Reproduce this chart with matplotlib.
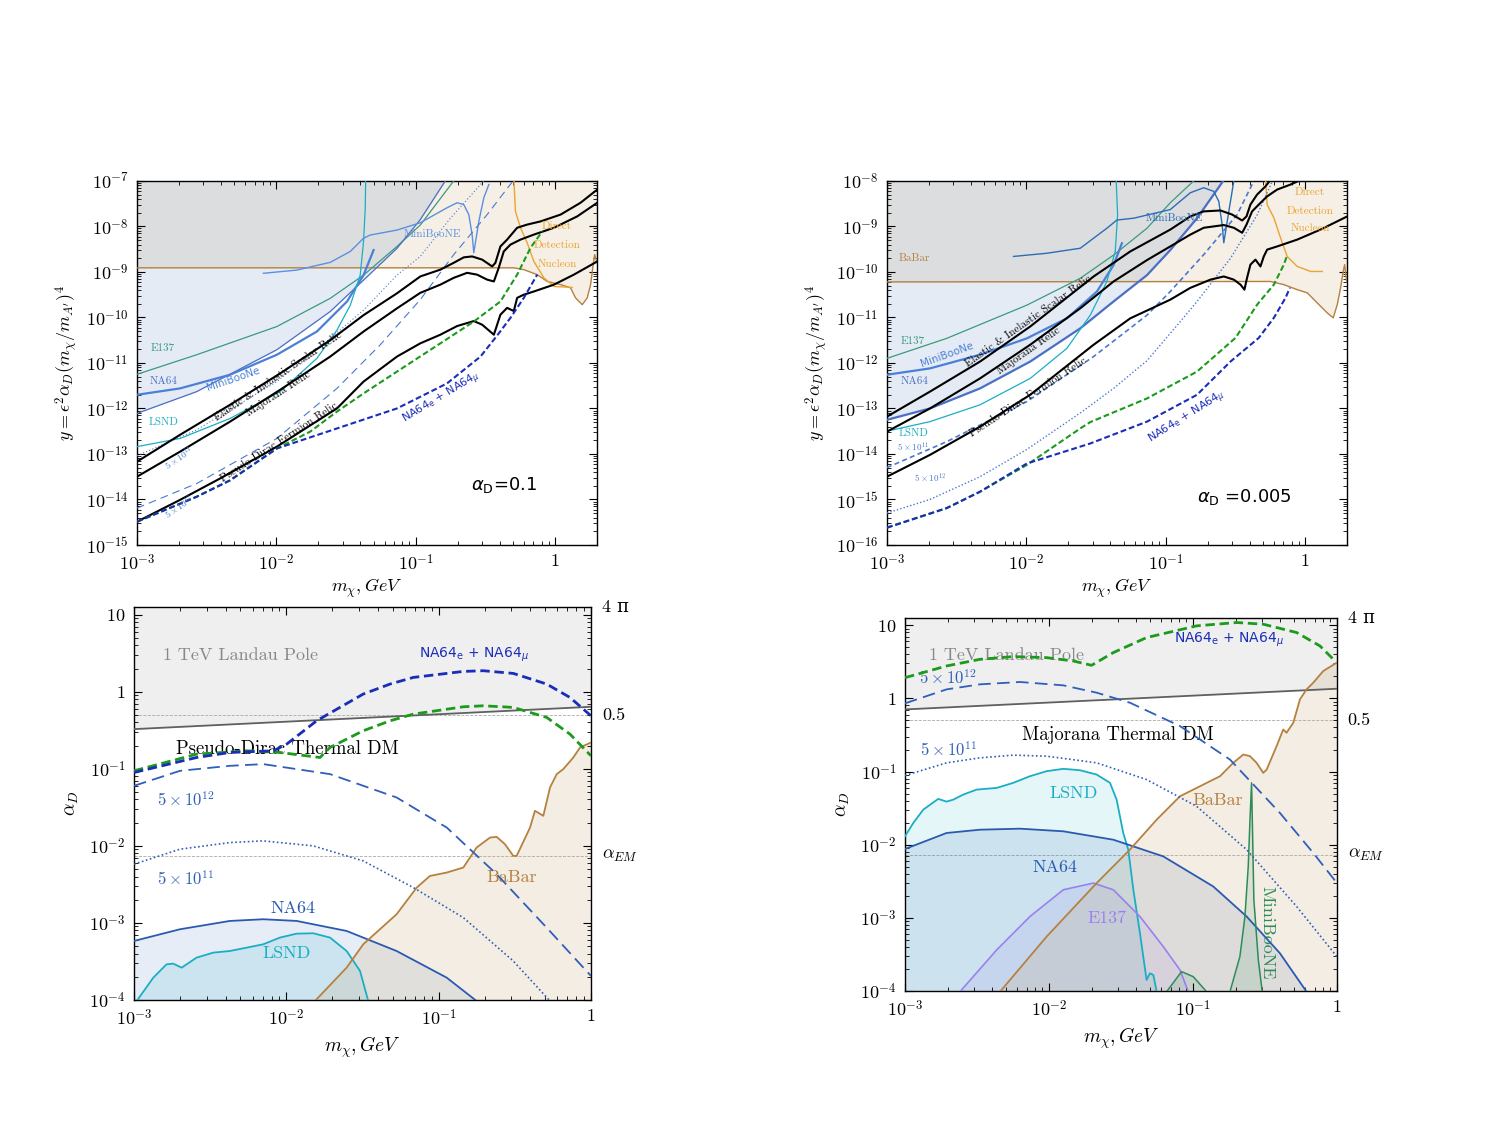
import numpy as np
import matplotlib
matplotlib.use('Agg')
import matplotlib.pyplot as plt
from matplotlib.ticker import LogLocator, FuncFormatter, NullFormatter

plt.rcParams['mathtext.fontset'] = 'cm'
plt.rcParams['font.family'] = 'cmr10'
plt.rcParams['axes.formatter.use_mathtext'] = True
plt.rcParams['axes.unicode_minus'] = True

# all curves stored as log10(mass / GeV) and log10(value)

# ---------- top left: y vs m, alpha_D = 0.1 ----------
tl_scalar_lm = [-3.000, -2.691, -2.332, -1.972, -1.613, -1.374, -1.134, -0.967, -0.823, -0.727, -0.655, -0.595, -0.523, -0.451, -0.428, -0.392, -0.344, -0.272, -0.200, -0.104, 0.040, 0.183, 0.303]
tl_scalar_ly = [-13.17, -12.58, -11.92, -11.23, -10.50, -9.95, -9.47, -9.10, -8.95, -8.80, -8.68, -8.66, -8.73, -8.88, -8.80, -8.44, -8.29, -8.03, -7.96, -7.89, -7.74, -7.48, -7.19]
tl_major_lm = [-3.000, -2.691, -2.332, -1.972, -1.613, -1.374, -1.134, -0.967, -0.823, -0.727, -0.631, -0.559, -0.487, -0.439, -0.404, -0.368, -0.320, -0.248, -0.152, -0.008, 0.159, 0.303]
tl_major_ly = [-13.50, -12.95, -12.29, -11.59, -10.86, -10.31, -9.80, -9.46, -9.28, -9.13, -9.02, -9.06, -9.17, -9.21, -8.91, -8.55, -8.40, -8.29, -8.18, -8.03, -7.78, -7.48]
tl_pdirac_lm = [-3.000, -2.691, -2.404, -1.996, -1.565, -1.374, -1.134, -0.967, -0.823, -0.703, -0.583, -0.523, -0.439, -0.392, -0.344, -0.296, -0.272, -0.224, -0.152, -0.008, 0.135, 0.303]
tl_pdirac_ly = [-14.49, -14.01, -13.54, -12.84, -12.00, -11.41, -10.86, -10.57, -10.38, -10.19, -10.08, -10.16, -10.38, -9.94, -9.79, -9.86, -9.57, -9.50, -9.43, -9.28, -9.06, -8.77]
tl_green_lm = [-3.000, -2.571, -2.332, -1.996, -1.757, -1.565, -1.374, -1.134, -0.823, -0.583, -0.392, -0.272, -0.176, -0.092]
tl_green_ly = [-14.49, -13.94, -13.58, -12.88, -12.51, -12.07, -11.67, -11.19, -10.57, -10.09, -9.65, -9.06, -8.47, -8.11]
tl_namu_lm = [-3.000, -2.571, -2.332, -1.996, -1.565, -1.134, -0.775, -0.535, -0.416, -0.320, -0.224, -0.128]
tl_namu_ly = [-14.49, -13.94, -13.58, -12.88, -12.44, -12.00, -11.45, -10.86, -10.40, -10.01, -9.57, -9.06]
tl_5e11_lm = [-3.000, -2.571, -1.996, -1.613, -1.374, -1.134, -0.967, -0.751, -0.511]
tl_5e11_ly = [-13.04, -12.47, -11.41, -10.46, -9.84, -9.07, -8.66, -7.82, -7.00]
tl_5e12_lm = [-3.000, -2.571, -1.996, -1.565, -1.254, -0.967, -0.727, -0.487, -0.284]
tl_5e12_ly = [-14.19, -13.65, -12.66, -11.56, -10.60, -9.61, -8.62, -7.74, -6.93]
tl_e137_lm = [-3.000, -2.571, -1.996, -1.613, -1.374, -1.134, -0.967, -0.727]
tl_e137_ly = [-11.25, -10.82, -10.20, -9.58, -9.07, -8.44, -7.97, -7.00]
tl_na64_lm = [-3.000, -2.571, -1.996, -1.613, -1.374, -1.134, -0.967, -0.787]
tl_na64_ly = [-12.11, -11.63, -10.71, -9.87, -9.18, -8.48, -7.85, -7.00]
tl_mbth_lm = [-3.000, -2.691, -2.332, -1.996, -1.709, -1.493, -1.374, -1.302]
tl_mbth_ly = [-11.70, -11.56, -11.26, -10.82, -10.31, -9.65, -9.07, -8.52]
tl_lsnd_lm = [-3.000, -2.691, -2.332, -1.972, -1.709, -1.565, -1.469, -1.398, -1.374, -1.362, -1.359]
tl_lsnd_ly = [-12.84, -12.66, -12.22, -11.63, -10.90, -10.28, -9.73, -9.07, -8.33, -7.60, -7.00]
tl_mb_lm = [-2.092, -1.853, -1.613, -1.469, -1.374, -1.326, -1.134, -0.967, -0.775, -0.703, -0.655, -0.619, -0.595, -0.583, -0.547, -0.511, -0.475]
tl_mb_ly = [-9.03, -8.96, -8.79, -8.55, -8.26, -8.19, -8.08, -7.92, -7.59, -7.48, -7.52, -7.74, -8.18, -8.58, -7.89, -7.37, -7.08]
tl_dd_lm = [-0.296, -0.284, -0.248, -0.200, -0.152, -0.080, -0.008, 0.123]
tl_dd_ly = [-6.93, -7.67, -8.03, -8.36, -8.77, -9.13, -9.32, -9.34]
tl_babar_lm = [-3.000, -0.296, -0.224, -0.128, -0.056, 0.040, 0.111, 0.147, 0.195, 0.231, 0.255, 0.274, 0.284, 0.298, 0.303]
tl_babar_ly = [-8.91, -8.91, -8.95, -9.06, -9.21, -9.28, -9.35, -9.57, -9.72, -9.57, -9.28, -8.84, -8.62, -8.77, -8.81]

# ---------- top right: y vs m, alpha_D = 0.005 ----------
tr_scalar_lm = [-3.000, -2.691, -2.332, -1.972, -1.517, -1.254, -0.967, -0.823, -0.727, -0.607, -0.523, -0.451, -0.420, -0.392, -0.344, -0.284, -0.236]
tr_scalar_ly = [-13.18, -12.63, -11.97, -11.20, -10.10, -9.55, -9.07, -8.78, -8.67, -8.65, -8.74, -8.87, -8.78, -8.52, -8.30, -8.12, -7.93]
tr_major_lm = [-3.000, -2.691, -2.332, -1.972, -1.613, -1.374, -1.134, -0.967, -0.823, -0.727, -0.583, -0.511, -0.451, -0.420, -0.380, -0.332, -0.272, -0.200, -0.104, 0.004]
tr_major_ly = [-13.51, -13.00, -12.34, -11.60, -10.80, -10.21, -9.74, -9.44, -9.18, -9.03, -8.97, -9.03, -9.14, -8.96, -8.67, -8.52, -8.34, -8.19, -8.08, -7.93]
tr_pdirac_lm = [-3.000, -2.691, -2.332, -1.972, -1.517, -1.254, -0.967, -0.823, -0.679, -0.583, -0.511, -0.463, -0.435, -0.416, -0.392, -0.356, -0.320, -0.296, -0.272, -0.200, -0.056, 0.111, 0.303]
tr_pdirac_ly = [-14.50, -14.02, -13.40, -12.70, -11.60, -11.02, -10.61, -10.35, -10.17, -10.10, -10.17, -10.28, -10.39, -10.13, -9.84, -9.73, -9.88, -9.66, -9.51, -9.44, -9.29, -9.07, -8.78]
tr_green_lm = [-3.000, -2.571, -2.332, -1.996, -1.613, -1.541, -1.134, -0.775, -0.499, -0.344, -0.224, -0.152, -0.128]
tr_green_ly = [-15.62, -15.19, -14.83, -14.24, -13.44, -13.30, -12.78, -12.19, -11.45, -10.72, -10.28, -9.84, -9.63]
tr_namu_lm = [-3.000, -2.571, -2.332, -1.996, -1.541, -1.134, -0.775, -0.535, -0.332, -0.224, -0.140, -0.109]
tr_namu_ly = [-15.62, -15.19, -14.83, -14.21, -13.77, -13.29, -12.70, -11.97, -11.45, -11.01, -10.57, -10.35]
tr_5e11_lm = [-3.000, -2.571, -1.996, -1.517, -1.134, -0.967, -0.727, -0.487, -0.380, -0.368]
tr_5e11_ly = [-14.30, -13.73, -12.85, -11.86, -10.95, -10.43, -9.62, -8.74, -8.08, -7.93]
tr_5e12_lm = [-3.000, -2.691, -2.332, -1.996, -1.613, -1.374, -1.134, -0.895, -0.775, -0.535, -0.344, -0.224]
tr_5e12_ly = [-15.30, -15.00, -14.50, -13.90, -13.10, -12.56, -11.95, -11.09, -10.65, -9.70, -8.75, -7.93]
tr_e137_lm = [-3.000, -2.571, -1.996, -1.613, -1.374, -1.134, -0.967, -0.799]
tr_e137_ly = [-11.90, -11.46, -10.73, -10.14, -9.63, -9.04, -8.48, -8.00]
tr_mbth_lm = [-3.000, -2.691, -2.332, -1.996, -1.709, -1.493, -1.374, -1.314]
tr_mbth_ly = [-12.26, -12.12, -11.82, -11.46, -11.02, -10.43, -9.85, -9.37]
tr_na64_lm = [-3.000, -2.691, -2.332, -1.972, -1.613, -1.374, -1.134, -0.967, -0.775, -0.571]
tr_na64_ly = [-13.25, -13.00, -12.56, -11.97, -11.24, -10.65, -10.07, -9.52, -8.82, -7.93]
tr_lsnd_lm = [-3.000, -2.691, -2.332, -1.972, -1.709, -1.541, -1.422, -1.362, -1.345, -1.355]
tr_lsnd_ly = [-13.50, -13.29, -12.92, -12.34, -11.68, -10.95, -10.21, -9.55, -8.75, -8.00]
tr_mb_lm = [-2.092, -1.853, -1.613, -1.422, -1.350, -1.230, -0.967, -0.823, -0.727, -0.655, -0.619, -0.595, -0.583, -0.547, -0.511]
tr_mb_ly = [-9.66, -9.59, -9.48, -9.04, -8.86, -8.82, -8.63, -8.26, -8.15, -8.23, -8.45, -8.96, -9.36, -8.67, -8.00]
tr_dd_lm = [-0.284, -0.272, -0.224, -0.176, -0.128, -0.056, 0.040, 0.123]
tr_dd_ly = [-7.93, -8.52, -8.81, -9.25, -9.66, -9.88, -9.99, -9.99]
tr_babar_lm = [-3.000, -0.248, -0.152, -0.056, 0.016, 0.087, 0.159, 0.202, 0.231, 0.255, 0.274, 0.284, 0.298, 0.303]
tr_babar_ly = [-10.22, -10.21, -10.28, -10.39, -10.46, -10.68, -10.90, -11.01, -10.72, -10.35, -9.99, -9.84, -10.21, -10.23]

# ---------- bottom left: alpha_D vs m, pseudo-Dirac ----------
bl_landau_lm = [-3.0, -1.5, 0.0]
bl_landau_la = [-0.485, -0.34, -0.195]
bl_namu_lm = [-3.000, -2.589, -2.370, -2.085, -1.998, -1.801, -1.648, -1.495, -1.319, -1.166, -0.838, -0.707, -0.510, -0.291, -0.138, 0.0]
bl_namu_la = [-1.048, -0.853, -0.788, -0.766, -0.680, -0.377, -0.203, -0.030, 0.100, 0.186, 0.264, 0.273, 0.238, 0.100, -0.074, -0.312]
bl_green_lm = [-3.000, -2.589, -2.260, -2.042, -1.779, -1.713, -1.495, -1.319, -1.166, -0.838, -0.707, -0.510, -0.291, -0.138, 0.0]
bl_green_la = [-1.026, -0.810, -0.766, -0.788, -0.853, -0.723, -0.506, -0.377, -0.290, -0.195, -0.182, -0.203, -0.333, -0.550, -0.831]
bl_5e12_lm = [-3.000, -2.698, -2.370, -2.151, -1.713, -1.276, -0.947, -0.619, -0.291, 0.0]
bl_5e12_la = [-1.221, -1.026, -0.961, -0.939, -1.069, -1.372, -1.762, -2.368, -3.061, -3.688]
bl_5e11_lm = [-3.000, -2.698, -2.370, -2.151, -1.823, -1.495, -1.166, -0.838, -0.510, -0.269]
bl_5e11_la = [-2.238, -2.043, -1.957, -1.935, -2.000, -2.195, -2.541, -2.931, -3.494, -4.013]
bl_na64_lm = [-3.000, -2.698, -2.370, -2.151, -1.932, -1.604, -1.276, -0.947, -0.751]
bl_na64_la = [-3.234, -3.082, -2.974, -2.952, -2.974, -3.104, -3.364, -3.710, -4.013]
bl_lsnd_lm = [-2.982, -2.873, -2.786, -2.742, -2.687, -2.589, -2.479, -2.370, -2.151, -2.042, -1.932, -1.823, -1.713, -1.604, -1.516, -1.462]
bl_lsnd_la = [-4.013, -3.710, -3.537, -3.528, -3.580, -3.450, -3.385, -3.364, -3.277, -3.190, -3.139, -3.134, -3.190, -3.364, -3.623, -4.013]
bl_babar_lm = [-1.812, -1.604, -1.495, -1.276, -1.144, -1.057, -0.947, -0.838, -0.751, -0.663, -0.619, -0.565, -0.510, -0.488, -0.400, -0.368, -0.313, -0.269, -0.225, -0.182, -0.116, -0.072, 0.0]
bl_babar_la = [-4.013, -3.580, -3.277, -2.887, -2.541, -2.390, -2.346, -2.281, -2.022, -1.892, -1.883, -1.978, -2.130, -2.130, -1.762, -1.545, -1.610, -1.242, -1.069, -1.004, -0.853, -0.723, -0.658]

# ---------- bottom right: alpha_D vs m, Majorana ----------
br_landau_lm = [-3.0, -1.5, 0.0]
br_landau_la = [-0.151, -0.01, 0.132]
br_green_lm = [-3.000, -2.711, -2.479, -2.248, -2.016, -1.831, -1.704, -1.553, -1.322, -0.975, -0.697, -0.512, -0.280, -0.118, -0.025]
br_green_la = [0.283, 0.443, 0.534, 0.571, 0.557, 0.511, 0.452, 0.626, 0.831, 0.991, 1.037, 1.014, 0.900, 0.717, 0.534]
br_5e12_lm = [-3.000, -2.711, -2.479, -2.201, -1.900, -1.669, -1.438, -1.090, -0.743, -0.396, -0.164, 0.0]
br_5e12_la = [-0.068, 0.123, 0.192, 0.224, 0.178, 0.078, -0.059, -0.379, -0.836, -1.566, -2.114, -2.525]
br_5e11_lm = [-3.000, -2.711, -2.479, -2.248, -2.016, -1.669, -1.322, -0.975, -0.627, -0.280, 0.0]
br_5e11_la = [-1.055, -0.881, -0.813, -0.776, -0.790, -0.881, -1.110, -1.475, -2.068, -2.845, -3.530]
br_lsnd_lm = [-3.000, -2.942, -2.873, -2.769, -2.711, -2.664, -2.595, -2.502, -2.363, -2.248, -2.132, -2.016, -1.900, -1.785, -1.669, -1.576, -1.530, -1.484, -1.449, -1.414, -1.368, -1.322, -1.299, -1.275, -1.252]
br_lsnd_la = [-1.886, -1.703, -1.521, -1.374, -1.411, -1.384, -1.315, -1.247, -1.224, -1.155, -1.064, -0.995, -0.963, -0.982, -1.041, -1.155, -1.384, -1.840, -2.068, -2.616, -3.210, -3.849, -3.758, -3.781, -4.01]
br_na64_lm = [-3.000, -2.711, -2.479, -2.201, -1.900, -1.553, -1.206, -0.859, -0.627, -0.396, -0.211]
br_na64_la = [-2.059, -1.840, -1.795, -1.781, -1.817, -1.932, -2.160, -2.571, -2.982, -3.484, -4.01]
br_e137_lm = [-2.618, -2.363, -2.132, -1.900, -1.692, -1.553, -1.368, -1.206, -1.090, -1.032]
br_e137_la = [-4.01, -3.438, -2.982, -2.616, -2.525, -2.616, -2.982, -3.393, -3.712, -4.01]
br_babar_lm = [-2.340, -2.016, -1.669, -1.438, -1.252, -1.090, -0.951, -0.812, -0.720, -0.650, -0.604, -0.558, -0.512, -0.488, -0.419, -0.373, -0.350, -0.303, -0.257, -0.211, -0.164, -0.095, 0.0]
br_babar_la = [-4.01, -3.256, -2.525, -2.068, -1.658, -1.338, -1.201, -1.064, -0.881, -0.767, -0.790, -0.881, -1.018, -0.973, -0.653, -0.425, -0.470, -0.333, -0.014, 0.123, 0.215, 0.374, 0.489]
br_mb_lm = [-0.743, -0.674, -0.639, -0.616, -0.604, -0.593, -0.586, -0.577, -0.546, -0.519]
br_mb_la = [-4.01, -3.530, -2.982, -2.297, -1.658, -1.155, -1.840, -2.753, -3.575, -4.01]
br_mb2_lm = [-1.183, -1.079, -0.998, -0.905]
br_mb2_la = [-4.01, -3.735, -3.804, -4.01]

alpha_half = 0.5
alpha_em = 1 / 137.0
four_pi = 4 * np.pi

# colours
c_na64 = '#4a6fc4'
c_mbth = '#4a80d8'
c_e137 = '#3a9a7e'
c_lsnd = '#1aaec4'
c_dd = '#eda32f'
c_babar = '#b5813f'
c_green = '#1c9a1c'
c_namu = '#1a2db8'
c_ref = '#4a78d0'
c_ref_b = '#2f5fb8'
c_blue_fill = '#2a5db0'
c_beige = '#c8a878'


def P(a):
    return 10.0 ** np.asarray(a)


def fmt(v, pos):
    e = int(round(np.log10(v)))
    if e == 0:
        return r'$1$'
    if e == 1:
        return r'$10$'
    return r'$10^{%d}$' % e


def setup(ax, xlim, ylim):
    ax.set_xscale('log')
    ax.set_yscale('log')
    ax.set_xlim(*xlim)
    ax.set_ylim(*ylim)
    for axis in (ax.xaxis, ax.yaxis):
        axis.set_major_locator(LogLocator(base=10, numticks=30))
        axis.set_minor_locator(LogLocator(base=10, subs=np.arange(2, 10), numticks=200))
        axis.set_major_formatter(FuncFormatter(fmt))
        axis.set_minor_formatter(NullFormatter())
    ax.tick_params(which='both', direction='in', top=True, right=True, labelsize=13, pad=6)
    ax.tick_params(which='major', length=6, width=0.8)
    ax.tick_params(which='minor', length=3, width=0.6)
    for s in ax.spines.values():
        s.set_linewidth(1.0)


def line(ax, lm, ly, **kw):
    ax.plot(P(lm), P(ly), **kw)


fig = plt.figure(figsize=(15, 11.25), dpi=100)

ax_tl = fig.add_axes([0.0913, 0.5156, 0.3067, 0.3236])
ax_tr = fig.add_axes([0.5913, 0.5156, 0.3067, 0.3236])
ax_bl = fig.add_axes([0.0893, 0.1111, 0.3047, 0.3493])
ax_br = fig.add_axes([0.6033, 0.1191, 0.2880, 0.3316])

sans = ['DejaVu Sans']
dash_t = (0, (2.8, 1.4))
dash_b = (0, (3.4, 1.7))


def top_panel(ax, ylim, d, labels):
    setup(ax, (1e-3, 2), ylim)
    top = ylim[1] * 10
    # excluded regions
    ax.fill_between(P(d['babar'][0]), P(d['babar'][1]), top, color=c_beige, alpha=0.18, lw=0, zorder=1)
    ax.fill_between(P(d['na64'][0]), P(d['na64'][1]), top, color=c_blue_fill, alpha=0.12, lw=0, zorder=1)
    line(ax, *d['babar'], color=c_babar, lw=1.0, zorder=3)
    line(ax, *d['dd'], color=c_dd, lw=1.0, zorder=3)
    line(ax, *d['e137'], color=c_e137, lw=0.9, zorder=3)
    line(ax, *d['na64'], color=c_na64, lw=d['na64_lw'], zorder=3)
    line(ax, *d['mbth'], color=c_mbth, lw=1.6, zorder=3)
    line(ax, *d['lsnd'], color=c_lsnd, lw=0.9, zorder=3)
    line(ax, *d['mb'], color=d['mb_c'], lw=1.0, zorder=3)
    line(ax, *d['5e11'], color=c_ref, lw=d['5e11_lw'], ls=d['5e11_ls'], zorder=3)
    line(ax, *d['5e12'], color=c_ref, lw=d['5e12_lw'], ls=d['5e12_ls'], zorder=3)
    line(ax, *d['scalar'], color='black', lw=1.5, zorder=4)
    line(ax, *d['major'], color='black', lw=1.5, zorder=4)
    line(ax, *d['pdirac'], color='black', lw=1.5, zorder=4)
    line(ax, *d['green'], color=c_green, lw=1.5, ls=dash_t, zorder=4)
    line(ax, *d['namu'], color=c_namu, lw=1.5, ls=dash_t, zorder=4)
    ax.set_xlabel(r'$m_\chi, GeV$', fontsize=13, labelpad=2)
    ax.set_ylabel(r"$y = \epsilon^2\alpha_D(m_\chi/m_{A^\prime})^4$", fontsize=13, labelpad=4)
    for (x, y, s, c, fs, rot, fam) in labels:
        kw = dict(transform=ax.transAxes, color=c, fontsize=fs, rotation=rot,
                  ha='center', va='center', rotation_mode='anchor', zorder=5)
        if fam == 'sans':
            kw.update(fontfamily=sans, math_fontfamily='dejavusans')
        ax.text(x, y, s, **kw)


namu_txt = r'NA64$_\mathrm{e}$ + NA64$_\mu$'

tl_data = {
    'scalar': (tl_scalar_lm, tl_scalar_ly), 'major': (tl_major_lm, tl_major_ly),
    'pdirac': (tl_pdirac_lm, tl_pdirac_ly), 'green': (tl_green_lm, tl_green_ly),
    'namu': (tl_namu_lm, tl_namu_ly), '5e11': (tl_5e11_lm, tl_5e11_ly),
    '5e12': (tl_5e12_lm, tl_5e12_ly), 'e137': (tl_e137_lm, tl_e137_ly),
    'na64': (tl_na64_lm, tl_na64_ly), 'mbth': (tl_mbth_lm, tl_mbth_ly),
    'lsnd': (tl_lsnd_lm, tl_lsnd_ly), 'mb': (tl_mb_lm, tl_mb_ly),
    'dd': (tl_dd_lm, tl_dd_ly), 'babar': (tl_babar_lm, tl_babar_ly),
    'na64_lw': 0.9, 'mb_c': '#5b8fe0',
    '5e11_lw': 0.8, '5e11_ls': (0, (1, 2)), '5e12_lw': 0.8, '5e12_ls': (0, (7, 4.5)),
}
tl_labels = [
    (0.643, 0.854, 'MiniBooNE', '#5b8fe0', 8, 0, 'cm'),
    (0.057, 0.541, 'E137', c_e137, 8, 0, 'cm'),
    (0.057, 0.451, 'NA64', c_na64, 8, 0, 'cm'),
    (0.209, 0.456, 'MiniBooNe', c_mbth, 7.5, 19, 'sans'),
    (0.057, 0.338, 'LSND', c_lsnd, 8, 0, 'cm'),
    (0.093, 0.239, r'$5\times10^{11}$', c_ref, 6.5, 35, 'cm'),
    (0.093, 0.102, r'$5\times10^{12}$', c_ref, 6.5, 35, 'cm'),
    (0.307, 0.462, 'Elastic & Inelastic Scalar Relic', 'black', 8, 34, 'cm'),
    (0.307, 0.415, 'Majorana Relic', 'black', 8, 33, 'cm'),
    (0.309, 0.283, 'Pseudo-Dirac Fermion Relic', 'black', 8, 33, 'cm'),
    (0.662, 0.402, namu_txt, c_namu, 8, 31, 'sans'),
    (0.913, 0.876, 'Direct', c_dd, 8, 0, 'cm'),
    (0.913, 0.824, 'Detection', c_dd, 8, 0, 'cm'),
    (0.913, 0.772, 'Nucleon', c_dd, 8, 0, 'cm'),
    (0.798, 0.165, r'$\alpha_\mathrm{D}$=0.1', 'black', 13, 0, 'sans'),
]
top_panel(ax_tl, (1e-15, 1e-7), tl_data, tl_labels)

tr_data = {
    'scalar': (tr_scalar_lm, tr_scalar_ly), 'major': (tr_major_lm, tr_major_ly),
    'pdirac': (tr_pdirac_lm, tr_pdirac_ly), 'green': (tr_green_lm, tr_green_ly),
    'namu': (tr_namu_lm, tr_namu_ly), '5e11': (tr_5e11_lm, tr_5e11_ly),
    '5e12': (tr_5e12_lm, tr_5e12_ly), 'e137': (tr_e137_lm, tr_e137_ly),
    'na64': (tr_na64_lm, tr_na64_ly), 'mbth': (tr_mbth_lm, tr_mbth_ly),
    'lsnd': (tr_lsnd_lm, tr_lsnd_ly), 'mb': (tr_mb_lm, tr_mb_ly),
    'dd': (tr_dd_lm, tr_dd_ly), 'babar': (tr_babar_lm, tr_babar_ly),
    'na64_lw': 1.6, 'mb_c': '#2a6db5',
    '5e11_lw': 1.2, '5e11_ls': (0, (3, 2)), '5e12_lw': 1.0, '5e12_ls': (0, (1, 1.5)),
}
tr_labels = [
    (0.624, 0.898, 'MiniBooNE', '#2a6db5', 8, 0, 'cm'),
    (0.059, 0.788, 'BaBar', c_babar, 8, 0, 'cm'),
    (0.057, 0.560, 'E137', c_e137, 8, 0, 'cm'),
    (0.130, 0.522, 'MiniBooNe', c_mbth, 7.5, 20, 'sans'),
    (0.059, 0.451, 'NA64', c_na64, 8, 0, 'cm'),
    (0.057, 0.308, 'LSND', c_lsnd, 8, 0, 'cm'),
    (0.057, 0.269, r'$5\times10^{11}$', c_ref, 6.5, 0, 'cm'),
    (0.093, 0.184, r'$5\times10^{12}$', c_ref, 6.5, 0, 'cm'),
    (0.307, 0.613, 'Elastic & Inelastic Scalar Relic', 'black', 8, 35, 'cm'),
    (0.307, 0.533, 'Majorana Relic', 'black', 8, 35, 'cm'),
    (0.307, 0.405, 'Pseudo-Dirac Fermion Relic', 'black', 8, 33, 'cm'),
    (0.652, 0.350, namu_txt, c_namu, 8, 32, 'sans'),
    (0.920, 0.970, 'Direct', c_dd, 8, 0, 'cm'),
    (0.920, 0.918, 'Detection', c_dd, 8, 0, 'cm'),
    (0.920, 0.871, 'Nucleon', c_dd, 8, 0, 'cm'),
    (0.776, 0.132, r'$\alpha_\mathrm{D}$ =0.005', 'black', 13, 0, 'sans'),
]
top_panel(ax_tr, (1e-16, 1e-8), tr_data, tr_labels)


def bottom_common(ax, landau, title):
    setup(ax, (1e-3, 1), (1e-4, four_pi))
    ax.fill_between(P(landau[0]), P(landau[1]), 100, color='#efefef', lw=0, zorder=0.5)
    line(ax, *landau, color='#606060', lw=1.3, zorder=3)
    ax.axhline(alpha_half, color='#aaaaaa', lw=0.6, ls='--', zorder=1)
    ax.axhline(alpha_em, color='#aaaaaa', lw=0.6, ls='--', zorder=1)
    ax.set_xlabel(r'$m_\chi, GeV$', fontsize=14, labelpad=4)
    ax.set_ylabel(r'$\alpha_D$', fontsize=14, labelpad=6)
    tr = ax.get_yaxis_transform()
    ax.text(1.025, four_pi, '4 π', transform=tr, fontsize=13, va='center', ha='left',
            fontfamily=['cmr10', 'DejaVu Serif'])
    ax.text(1.025, alpha_half, '0.5', transform=tr, fontsize=13, va='center', ha='left')
    ax.text(1.025, alpha_em, r'$\alpha_{EM}$', transform=tr, fontsize=13, va='center', ha='left')
    ax.text(0.234, title[0], '1 TeV Landau Pole', transform=ax.transAxes, fontsize=13,
            color='#888888', ha='center', va='center', zorder=1.5)


def fill_below(ax, lm, la, color, alpha):
    ax.fill_between(P(lm), 1e-5, P(la), color=color, alpha=alpha, lw=0, zorder=1)


# bottom left
bottom_common(ax_bl, (bl_landau_lm, bl_landau_la), (0.878,))
fill_below(ax_bl, bl_na64_lm, bl_na64_la, c_blue_fill, 0.11)
fill_below(ax_bl, bl_lsnd_lm, bl_lsnd_la, c_lsnd, 0.13)
fill_below(ax_bl, bl_babar_lm, bl_babar_la, c_beige, 0.2)
line(ax_bl, bl_na64_lm, bl_na64_la, color='#2a5ab0', lw=1.3, zorder=3)
line(ax_bl, bl_lsnd_lm, bl_lsnd_la, color=c_lsnd, lw=1.3, zorder=3)
line(ax_bl, bl_babar_lm, bl_babar_la, color=c_babar, lw=1.3, zorder=3)
line(ax_bl, bl_5e12_lm, bl_5e12_la, color=c_ref_b, lw=1.3, ls=(0, (7, 3.5)), zorder=3)
line(ax_bl, bl_5e11_lm, bl_5e11_la, color=c_ref_b, lw=1.2, ls=(0, (1, 1.5)), zorder=3)
line(ax_bl, bl_green_lm, bl_green_la, color=c_green, lw=2.0, ls=dash_b, zorder=4)
line(ax_bl, bl_namu_lm, bl_namu_la, color=c_namu, lw=2.0, ls=dash_b, zorder=4)
bl_texts = [
    (0.744, 0.878, namu_txt, c_namu, 10, 'sans'),
    (0.335, 0.639, 'Pseudo-Dirac Thermal DM', 'black', 13.5, 'cm'),
    (0.114, 0.509, r'$5\times10^{12}$', c_ref_b, 12, 'cm'),
    (0.114, 0.310, r'$5\times10^{11}$', c_ref_b, 12, 'cm'),
    (0.348, 0.234, 'NA64', '#2a5ab0', 13, 'cm'),
    (0.335, 0.120, 'LSND', c_lsnd, 13, 'cm'),
    (0.827, 0.313, 'BaBar', c_babar, 13, 'cm'),
]
for (x, y, s, c, fs, fam) in bl_texts:
    kw = dict(transform=ax_bl.transAxes, color=c, fontsize=fs, ha='center', va='center', zorder=1.5)
    if fam == 'sans':
        kw.update(fontfamily=sans, math_fontfamily='dejavusans')
    ax_bl.text(x, y, s, **kw)

# bottom right
bottom_common(ax_br, (br_landau_lm, br_landau_la), (0.901,))
fill_below(ax_br, br_lsnd_lm, br_lsnd_la, c_lsnd, 0.11)
fill_below(ax_br, br_na64_lm, br_na64_la, c_blue_fill, 0.13)
fill_below(ax_br, br_e137_lm, br_e137_la, '#9b7cf2', 0.12)
fill_below(ax_br, br_babar_lm, br_babar_la, c_beige, 0.2)
fill_below(ax_br, br_mb_lm, br_mb_la, '#2e8b57', 0.12)
fill_below(ax_br, br_mb2_lm, br_mb2_la, '#2e8b57', 0.12)
line(ax_br, br_lsnd_lm, br_lsnd_la, color=c_lsnd, lw=1.3, zorder=3)
line(ax_br, br_na64_lm, br_na64_la, color='#2a5ab0', lw=1.3, zorder=3)
line(ax_br, br_e137_lm, br_e137_la, color='#9a80f0', lw=1.2, zorder=3)
line(ax_br, br_babar_lm, br_babar_la, color=c_babar, lw=1.3, zorder=3)
line(ax_br, br_mb_lm, br_mb_la, color='#2e8b57', lw=1.1, zorder=3)
line(ax_br, br_mb2_lm, br_mb2_la, color='#2e8b57', lw=1.1, zorder=3)
line(ax_br, br_5e12_lm, br_5e12_la, color=c_ref_b, lw=1.3, ls=(0, (7, 3.5)), zorder=3)
line(ax_br, br_5e11_lm, br_5e11_la, color=c_ref_b, lw=1.2, ls=(0, (1, 1.5)), zorder=3)
line(ax_br, br_green_lm, br_green_la, color=c_green, lw=2.0, ls=dash_b, zorder=4)
br_texts = [
    (0.750, 0.941, namu_txt, c_namu, 10, 0, 'sans'),
    (0.100, 0.839, r'$5\times10^{12}$', c_ref_b, 12, 0, 'cm'),
    (0.493, 0.686, 'Majorana Thermal DM', 'black', 13.5, 0, 'cm'),
    (0.100, 0.646, r'$5\times10^{11}$', c_ref_b, 12, 0, 'cm'),
    (0.391, 0.531, 'LSND', c_lsnd, 13, 0, 'cm'),
    (0.725, 0.512, 'BaBar', c_babar, 13, 0, 'cm'),
    (0.347, 0.332, 'NA64', '#2a5ab0', 13, 0, 'cm'),
    (0.468, 0.196, 'E137', '#9a80f0', 13, 0, 'cm'),
    (0.838, 0.155, 'MiniBooNE', '#2e8b57', 13, -90, 'cm'),
]
for (x, y, s, c, fs, rot, fam) in br_texts:
    kw = dict(transform=ax_br.transAxes, color=c, fontsize=fs, rotation=rot,
              ha='center', va='center', zorder=1.5)
    if fam == 'sans':
        kw.update(fontfamily=sans, math_fontfamily='dejavusans')
    ax_br.text(x, y, s, **kw)

fig.savefig('out.png', dpi=100)
